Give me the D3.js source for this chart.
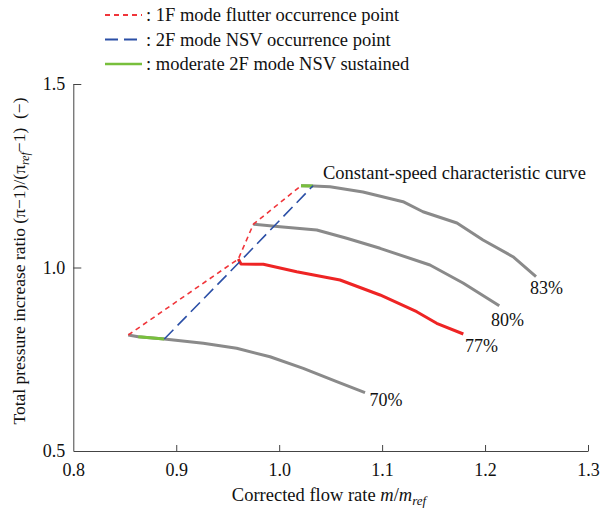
<!DOCTYPE html>
<html>
<head>
<meta charset="utf-8">
<script src="https://cdn.jsdelivr.net/npm/d3@7"></script>
<style>
  html, body { margin: 0; padding: 0; background: #fff; }
  svg { display: block; }
  text { font-family: "Liberation Serif", "Times New Roman", "DejaVu Serif", serif; fill: #111; }
</style>
</head>
<body>
<svg id="chart" width="600" height="512"></svg>
<script>
// ---- data ----
const xTicks = [0.8, 0.9, 1.0, 1.1, 1.2, 1.3];
const yTicks = [0.5, 1.0, 1.5];

const speed83 = [[1.0212,1.2229],[1.0329,1.2221],[1.0494,1.2202],[1.0814,1.2057],[1.1203,1.1793],[1.1397,1.1520],[1.1727,1.1213],[1.1980,1.0749],[1.2271,1.0294],[1.2495,0.9749]];
const speed80 = [[0.9749,1.1177],[1.0008,1.1112],[1.0365,1.1022],[1.0656,1.0796],[1.0980,1.0523],[1.1465,1.0068],[1.1786,0.9578],[1.2138,0.8959]];
const speed77 = [[0.9603,1.0232],[0.9629,1.0095],[0.9846,1.0087],[1.0170,0.9886],[1.0591,0.9659],[1.0980,0.9251],[1.1336,0.8796],[1.1530,0.8480],[1.1789,0.8188]];
const speed70 = [[0.8534,0.8161],[0.8631,0.8114],[0.8884,0.8052],[0.9263,0.7935],[0.9587,0.7798],[0.9911,0.7569],[1.0234,0.7253],[1.0559,0.6889],[1.0834,0.6589]];

const green70 = [[0.8631,0.8114],[0.8884,0.8052]];
const green83 = [[1.0212,1.2229],[1.0329,1.2221]];

const flutter1F = [[0.8534,0.8161],[0.9603,1.0232],[0.9749,1.1177],[1.0212,1.2229]];
const nsv2F = [[0.8884,0.8052],[0.9603,1.0116],[1.0329,1.2229]];

const speedLabels = ["83%", "80%", "77%", "70%"];
const legendLabels = [": 1F mode flutter occurrence point", ": 2F mode NSV occurrence point", ": moderate 2F mode NSV sustained"];

// ---- drawing ----
const svg = d3.select("#chart");
const x = d3.scaleLinear().domain([0.8, 1.3]).range([73.3, 588]);
const y = d3.scaleLinear().domain([0.5, 1.5]).range([451, 84]);
const line = d3.line().x(d => x(d[0])).y(d => y(d[1]));

const GRAY = "#8a8a8a", RED = "#ee2424", BLUE = "#2b4fa6", GREEN = "#78bf3c", DRED = "#f0353a";

// axes
const gx = svg.append("g").attr("transform", "translate(0,451)")
  .call(d3.axisBottom(x).tickValues(xTicks).tickFormat(d3.format(".1f")).tickSize(-6).tickSizeOuter(0).tickPadding(12));
const gy = svg.append("g").attr("transform", "translate(73.3,0)")
  .call(d3.axisLeft(y).tickValues(yTicks).tickFormat(d3.format(".1f")).tickSize(-8).tickSizeOuter(0).tickPadding(8));
[gx, gy].forEach(g => {
  g.select(".domain").attr("stroke", "#444").attr("stroke-width", 1);
  g.selectAll(".tick line").attr("stroke", "#444");
  g.selectAll(".tick text").attr("font-size", 18).attr("font-family", "Liberation Serif").attr("fill", "#111");
});
gx.selectAll(".tick").filter(d => d === 0.8).select("line").remove();
gy.selectAll(".tick").filter(d => d === 0.5).select("line").remove();

// curves
const curves = [speed83, speed80, speed70];
svg.selectAll("path.speed").data(curves).enter().append("path")
  .attr("class", "speed").attr("d", line)
  .attr("fill", "none").attr("stroke", GRAY).attr("stroke-width", 3).attr("stroke-linejoin", "round");
svg.append("path").attr("d", line(speed77))
  .attr("fill", "none").attr("stroke", RED).attr("stroke-width", 3).attr("stroke-linejoin", "round");
[green70, green83].forEach(g => svg.append("path").attr("d", line(g))
  .attr("fill", "none").attr("stroke", GREEN).attr("stroke-width", 3));

svg.append("path").attr("d", line(flutter1F))
  .attr("fill", "none").attr("stroke", DRED).attr("stroke-width", 1.6).attr("stroke-dasharray", "5,4");
svg.append("path").attr("d", line(nsv2F))
  .attr("fill", "none").attr("stroke", BLUE).attr("stroke-width", 1.6).attr("stroke-dasharray", "13,6");

// speed labels
const labelPos = [[530, 294], [491, 326], [465, 352], [369.5, 406]];
labelPos.forEach((p, i) => svg.append("text").attr("x", p[0]).attr("y", p[1])
  .attr("font-size", 18).text(speedLabels[i]));

svg.append("text").attr("x", 323).attr("y", 179).attr("font-size", 18.5)
  .text("Constant-speed characteristic curve");

// legend
const legend = [
  {color: DRED, dash: "5,4"},
  {color: BLUE, dash: "13,6"},
  {color: GREEN, dash: null}
];
legend.forEach((l, i) => {
  const cy = 15 + i * 24.5;
  svg.append("line").attr("x1", 105).attr("x2", 142).attr("y1", cy).attr("y2", cy)
    .attr("stroke", l.color).attr("stroke-width", l.dash ? 1.8 : 2.4)
    .attr("stroke-dasharray", l.dash);
  svg.append("text").attr("x", 146).attr("y", cy + 6).attr("font-size", 18.5).text(legendLabels[i]);
});

// axis titles
const xt = svg.append("text").attr("x", 329).attr("y", 501).attr("text-anchor", "middle").attr("font-size", 18.5);
xt.append("tspan").text("Corrected flow rate ");
xt.append("tspan").attr("font-style", "italic").text("m");
xt.append("tspan").text("/");
xt.append("tspan").attr("font-style", "italic").text("m");
xt.append("tspan").attr("font-style", "italic").attr("font-size", 13).attr("dy", 4).text("ref");

const yt = svg.append("text").attr("transform", "translate(25,261) rotate(-90)")
  .attr("text-anchor", "middle").attr("font-size", 17.5);
yt.append("tspan").text("Total pressure increase ratio (\u03c0\u22121)/(\u03c0");
yt.append("tspan").attr("font-style", "italic").attr("font-size", 12).attr("dy", 4).text("ref");
yt.append("tspan").attr("dy", -4).text("\u22121)\u00a0\u00a0(\u2212)");
</script>
</body>
</html>
